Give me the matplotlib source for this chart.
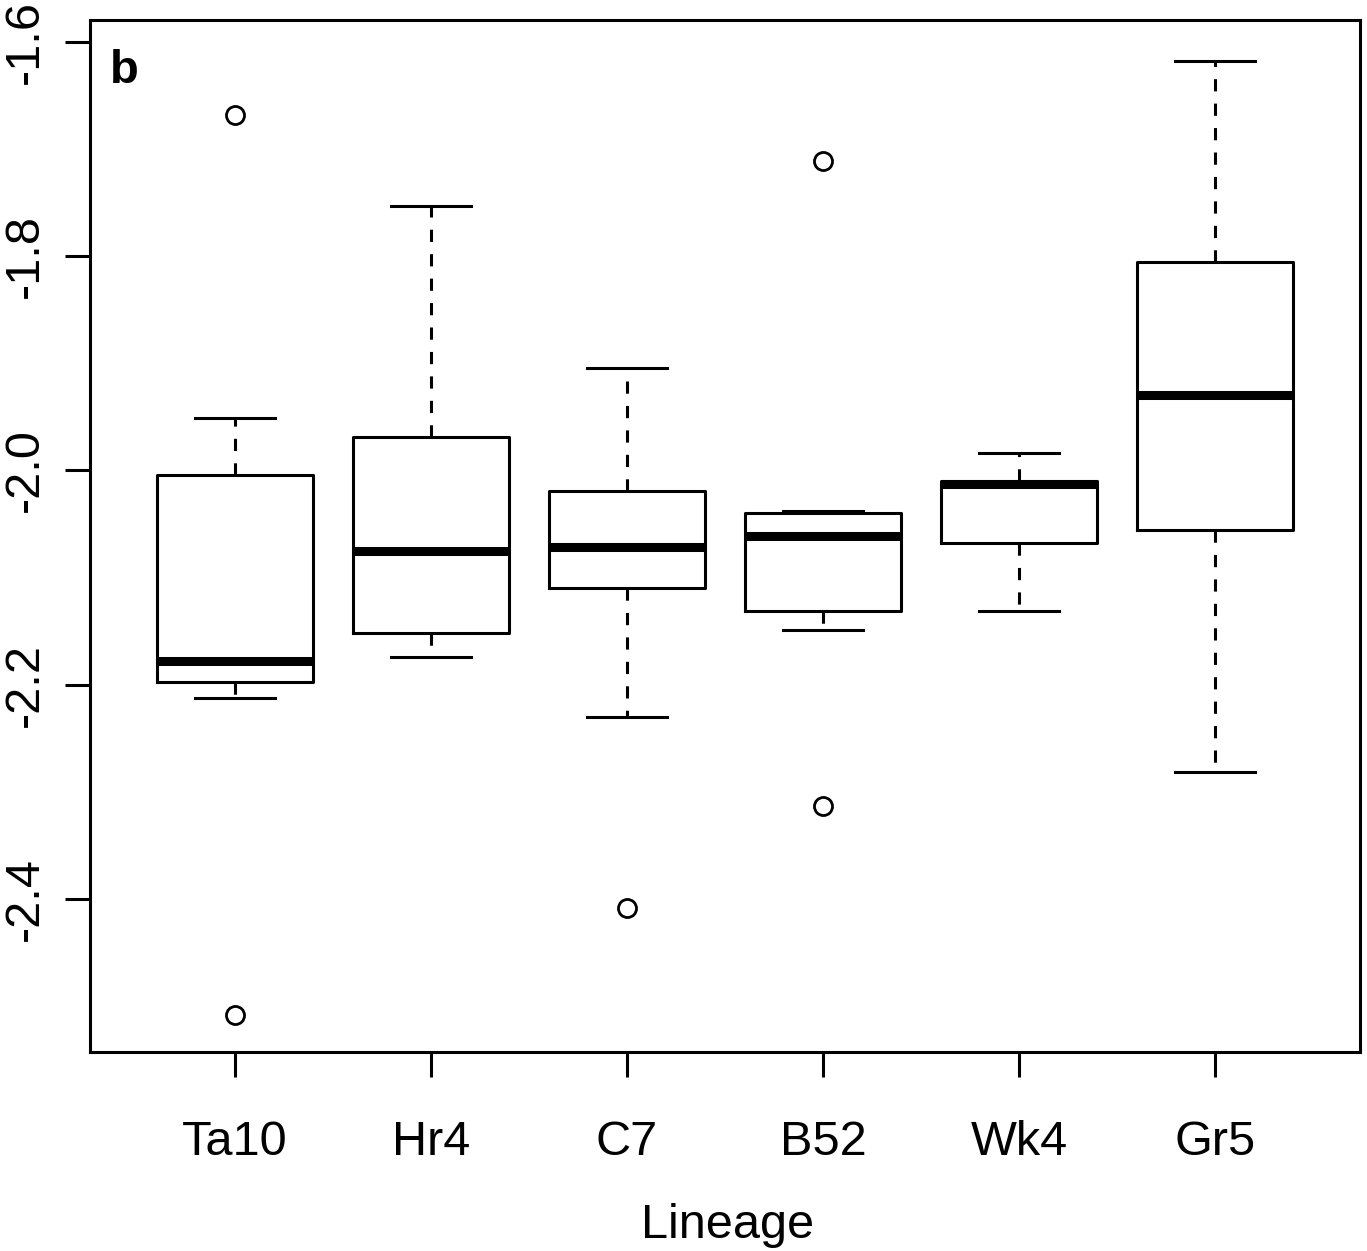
import matplotlib
matplotlib.use("Agg")
import matplotlib.pyplot as plt

plt.rcParams["font.family"] = ["Liberation Sans", "DejaVu Sans"]

# ── Data ──────────────────────────────────────────────────────────────────
lineages = ["Ta10", "Hr4", "C7", "B52", "Wk4", "Gr5"]
whislo   = [-2.212, -2.174, -2.230, -2.149, -2.131, -2.281]
q1       = [-2.197, -2.152, -2.110, -2.131, -2.068, -2.056]
med      = [-2.178, -2.075, -2.071, -2.061, -2.013, -1.930]
q3       = [-2.004, -1.969, -2.019, -2.040, -2.010, -1.805]
whishi   = [-1.951, -1.753, -1.904, -2.038, -1.984, -1.618]
outliers = [[-1.668, -2.508], [], [-2.408], [-1.711, -2.313], [], []]

yticks = [-1.6, -1.8, -2.0, -2.2, -2.4]

# ── Figure ────────────────────────────────────────────────────────────────
fig = plt.figure(figsize=(13.67, 12.51), dpi=100)
ax = fig.add_axes([90 / 1367, 1 - 1052 / 1251, 1270 / 1367, 1032 / 1251])

stats = []
for i, name in enumerate(lineages):
    stats.append({
        "label": name, "whislo": whislo[i], "q1": q1[i], "med": med[i],
        "q3": q3[i], "whishi": whishi[i], "fliers": outliers[i],
    })

LW = 2.2
ax.bxp(
    stats, positions=range(1, len(lineages) + 1), widths=0.8,
    boxprops=dict(color="black", linewidth=LW),
    medianprops=dict(color="black", linewidth=6.5, solid_capstyle="butt"),
    whiskerprops=dict(color="black", linewidth=LW, linestyle=(0, (4, 4))),
    capprops=dict(color="black", linewidth=LW),
    capwidths=0.41,
    flierprops=dict(marker="o", markerfacecolor="none", markeredgecolor="black",
                    markersize=13, markeredgewidth=2),
)

ax.set_xlim(0.26, 6.74)
ax.set_ylim(-2.5428, -1.5795)
ax.set_yticks(yticks)
ax.set_yticklabels([f"{v:.1f}" for v in yticks], rotation=90, va="center")
ax.set_xticks(range(1, len(lineages) + 1))
ax.set_xticklabels(lineages)

for s in ax.spines.values():
    s.set_linewidth(LW)
ax.tick_params(axis="both", length=18, width=LW, labelsize=35)
ax.tick_params(axis="x", pad=31)
ax.tick_params(axis="y", pad=12)

ax.text(0.016, 0.972, "b", transform=ax.transAxes, fontsize=34,
        fontweight="bold", va="top", ha="left")
fig.text(728 / 1367, 1 - 1238 / 1251, "Lineage", fontsize=35,
         ha="center", va="baseline")

fig.savefig("out.png", dpi=100)
